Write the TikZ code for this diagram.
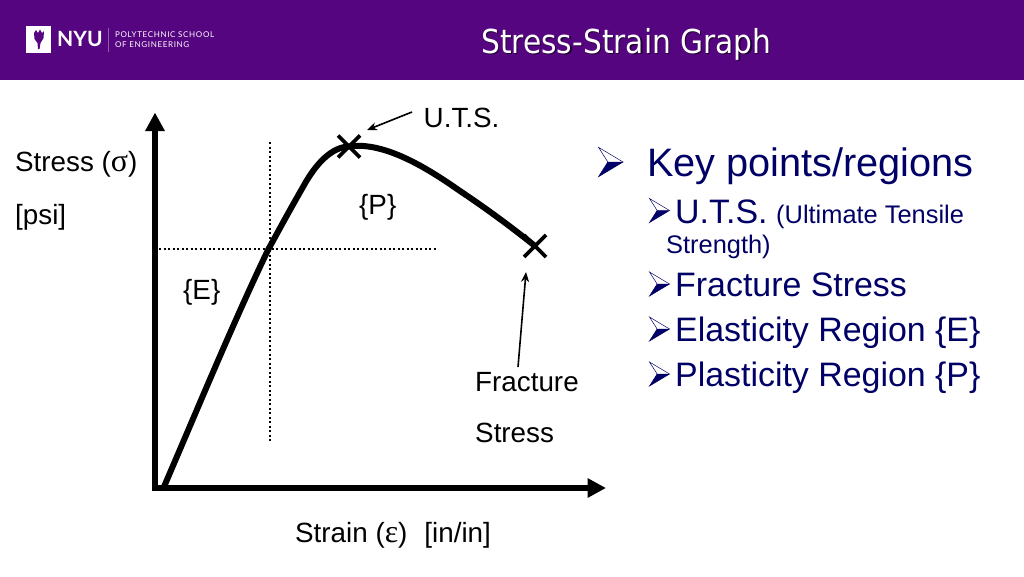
\documentclass[tikz,border=0pt]{standalone}
\usepackage{fontspec}
\setmainfont{Liberation Sans}
\newfontfamily\titlefont{DejaVu Sans Condensed}
\newfontfamily\logofont{Lato}
\newfontfamily\logosmall[LetterSpace=8]{Lato}
\newfontfamily\greekfont[Scale=1.15]{Liberation Serif}
\usetikzlibrary{arrows.meta}
\definecolor{nyupurple}{HTML}{560580}
\definecolor{navytext}{HTML}{000066}
\newcommand{\fs}[1]{\fontsize{#1}{#1}\selectfont}
\tikzset{
  axisline/.style={line width=6pt,draw=black,-{Triangle[length=18.5pt,width=18.5pt]}},
  curveline/.style={line width=6pt,draw=black,line cap=butt},
  crossline/.style={line width=3.8pt,draw=black},
  guide/.style={line width=2pt,draw=black,dash pattern=on 2pt off 2.5pt},
  callout/.style={line width=1.6pt,draw=black,-{Stealth[length=10pt,width=8pt]}},
  label/.style={inner sep=0pt,anchor=base west,text=black},
  keytext/.style={inner sep=0pt,anchor=base west,text=navytext},
  logotext/.style={inner sep=0pt,anchor=north west,text=white,align=left,font=\logosmall\fontsize{8}{9.4}\selectfont},
}
\newcommand{\bulletmark}[3]{% x y size
  \filldraw[navytext,line width=0.5pt] (#1+#3,#2) -- (#1,#2+0.6*#3) -- (#1+0.38*#3,#2) -- cycle;
  \draw[navytext,line width=0.5pt] (#1+#3,#2) -- (#1,#2-0.6*#3) -- (#1+0.38*#3,#2);
}
\begin{document}
\begin{tikzpicture}[x=1pt,y=-1pt]
\useasboundingbox (0,0) rectangle (1024,576);
\fill[white] (0,0) rectangle (1024,576);
% header
\fill[nyupurple] (0,0) rectangle (1024,79.5);
\fill[white] (26,26) rectangle (51,52.5);
\fill[nyupurple] (34,33) -- (36,30) -- (38,33) -- (40,29.5) -- (42,33) -- (44,31) -- (43.5,38) -- (40.5,43) -- (39.5,49) -- (38,49) -- (37.5,43) -- (34.5,39) -- cycle;
\node[inner sep=0pt,anchor=base west,text=white,font=\logofont\fs{21}\bfseries] (nyu) at (57,46) {NYU};
\draw[white,opacity=.35,line width=.6pt] (108.5,28) -- (108.5,52);
\node[logotext] (poly) at (115,32) {POLYTECHNIC SCHOOL\\OF ENGINEERING};
\node[inner sep=0pt,anchor=base west,text=black,opacity=.6,font=\titlefont\fs{33}] at (482.2,54.2) {Stress-Strain Graph};
\node[inner sep=0pt,anchor=base west,text=white,font=\titlefont\fs{33}] (title) at (481,53) {Stress-Strain Graph};
% axes
\coordinate (origin) at (155,491);
\coordinate (ytip) at (155,112.5);
\coordinate (xtip) at (606,488);
\coordinate (xstart) at (152,488);
\draw[axisline] (origin) -- (ytip);
\draw[axisline] (xstart) -- (xtip);
% guides
\coordinate (gv1) at (269.5,142);
\coordinate (gv2) at (269.5,441);
\coordinate (gh1) at (159,248.5);
\coordinate (gh2) at (436,248.5);
\draw[guide] (gv1) -- (gv2);
\draw[guide] (gh1) -- (gh2);
% curve
\coordinate (c0) at (163,489);
\coordinate (uts) at (349,146.5);
\coordinate (frac) at (535,246);
\draw[curveline] (c0) .. controls (195,415) and (232,325) .. (268,250) .. controls (280,228) and (292,206) .. (303,187)
  .. controls (316,163) and (332,147) .. (uts)
  .. controls (385,141) and (430,170) .. (460,191)
  .. controls (490,211) and (515,230) .. (frac);
\draw[crossline] ([shift={(-11,-11)}]uts) -- ([shift={(11,11)}]uts);
\draw[crossline] ([shift={(11,-11)}]uts) -- ([shift={(-11,11)}]uts);
\draw[crossline] ([shift={(-11,-11)}]frac) -- ([shift={(11,11)}]frac);
\draw[crossline] ([shift={(11,-11)}]frac) -- ([shift={(-11,11)}]frac);
% labels
\node[label,font=\fs{27.8}] (utsl) at (423.5,127) {U.T.S.};
\coordinate (utsfrom) at (412,112);
\coordinate (utsto) at (367,130);
\draw[callout] (utsfrom) -- (utsto);
\node[label,font=\fs{27.8}] (p) at (359,214) {\{P\}};
\node[label,font=\fs{27.8}] (e) at (183,299) {\{E\}};
\node[label,font=\fs{27.8}] (sl) at (15,171) {Stress ({\greekfont σ})};
\node[label,font=\fs{27.8}] (psi) at (15,224) {[psi]};
\node[label,font=\fs{27.8}] (fr) at (475,391) {Fracture};
\node[label,font=\fs{27.8}] (st) at (475,442) {Stress};
\coordinate (ffrom) at (518,367);
\coordinate (fto) at (526,272);
\draw[callout] (ffrom) -- (fto);
\node[label,font=\fs{27.8}] (xl) at (295,542) {Strain ({\greekfont ε})\ \ \kern1.5pt[in/in]};
% key points
\bulletmark{598.5}{162}{24.5}
\node[keytext,font=\fs{39.7}] (k0) at (647,176) {Key points/regions};
\bulletmark{649.5}{210.5}{20}
\node[keytext,font=\fs{33.9}] (k1) at (675,223) {U.T.S.};
\node[keytext,font=\fs{25.4}] (k1b) at (776,223) {(Ultimate Tensile};
\node[keytext,font=\fs{25.4}] (k1c) at (666,253) {Strength)};
\bulletmark{649.5}{284}{20}
\node[keytext,font=\fs{33.9}] (k2) at (675,296) {Fracture Stress};
\bulletmark{649.5}{329}{20}
\node[keytext,font=\fs{33.9}] (k3) at (675,341) {Elasticity Region \{E\}};
\bulletmark{649.5}{374}{20}
\node[keytext,font=\fs{33.9}] (k4) at (675,386) {Plasticity Region \{P\}};
\end{tikzpicture}
\end{document}
